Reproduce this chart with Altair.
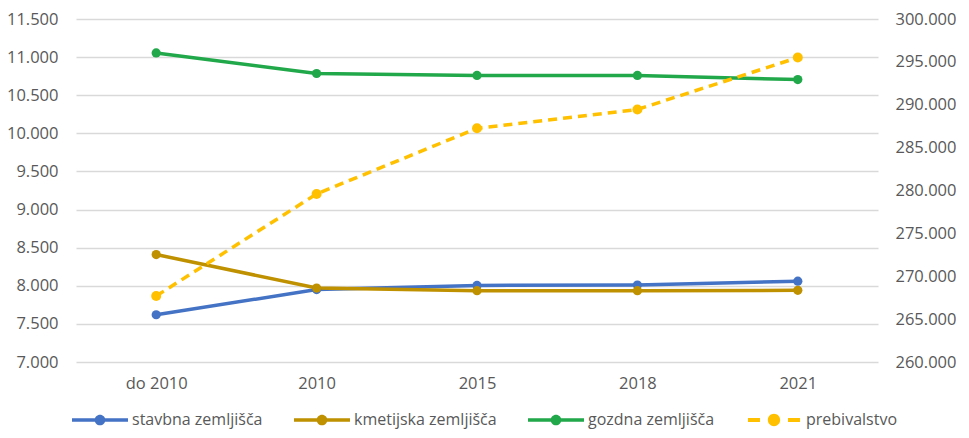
import altair as alt
import pandas as pd

categories = ["do 2010", "2010", "2015", "2018", "2021"]
stavbna = [7620, 7950, 8005, 8010, 8060]
kmetijska = [8410, 7970, 7935, 7935, 7940]
gozdna = [11055, 10785, 10760, 10760, 10705]
prebivalstvo = [267700, 279600, 287250, 289450, 295500]

series_names = ["stavbna zemljišča", "kmetijska zemljišča", "gozdna zemljišča", "prebivalstvo"]
series_colors = ["#4472C4", "#BF9000", "#21A84A", "#FFC000"]

left_axis_ticks = [7000, 7500, 8000, 8500, 9000, 9500, 10000, 10500, 11000, 11500]
right_axis_ticks = [260000, 265000, 270000, 275000, 280000, 285000, 290000, 295000, 300000]

rows = []
for name, vals in zip(series_names[:3], [stavbna, kmetijska, gozdna]):
    for c, v in zip(categories, vals):
        rows.append({"kat": c, "serija": name, "vrednost": v})
left_df = pd.DataFrame(rows)
right_df = pd.DataFrame({"kat": categories, "serija": series_names[3], "vrednost": prebivalstvo})
legend_df = pd.DataFrame({"serija": series_names})

FONT = "Open Sans"
GREY = "#595959"
label_expr = "replace(format(datum.value, ',.0f'), ',', '.')"

circle = "M-0.19,0A0.19,0.19,0,1,1,0.19,0A0.19,0.19,0,1,1,-0.19,0Z"
line_path = "M-1,-0.065L1,-0.065L1,0.065L-1,0.065Z " + circle
dash_path = ("M-0.93,-0.07L-0.5,-0.07L-0.5,0.07L-0.93,0.07Z "
             "M0.5,-0.07L0.93,-0.07L0.93,0.07L0.5,0.07Z "
             "M-0.22,0A0.22,0.22,0,1,1,0.22,0A0.22,0.22,0,1,1,-0.22,0Z")

col_scale = alt.Scale(domain=series_names, range=series_colors)
x_enc = alt.X("kat:N", sort=categories, scale=alt.Scale(type="point", padding=0.5),
              axis=alt.Axis(title=None, domain=False, ticks=False, grid=False, labelAngle=0,
                            labelFont=FONT, labelFontSize=16.5, labelColor=GREY, labelPadding=13))

y_left = alt.Y("vrednost:Q", scale=alt.Scale(domain=[7000, 11500], nice=False, zero=False),
               axis=alt.Axis(title=None, values=left_axis_ticks, labelExpr=label_expr, domain=False,
                             ticks=False, grid=True, gridColor="#D9D9D9", gridWidth=1.5,
                             labelFont=FONT, labelFontSize=16.5, labelColor=GREY, labelPadding=18))
y_right = alt.Y("vrednost:Q", scale=alt.Scale(domain=[260000, 300000], nice=False, zero=False),
                axis=alt.Axis(title=None, orient="right", values=right_axis_ticks, labelExpr=label_expr,
                              domain=False, ticks=False, grid=False,
                              labelFont=FONT, labelFontSize=16.5, labelColor=GREY, labelPadding=17))

legend = alt.Legend(title=None, orient="none", legendX=-4, legendY=373, direction="horizontal",
                    symbolSize=3136, columnPadding=31, labelOffset=4,
                    labelFont=FONT, labelFontSize=16, labelColor=GREY, symbolStrokeWidth=0,
                    symbolOpacity=1)

left_lines = alt.Chart(left_df).mark_line(strokeWidth=3.5).encode(
    x=x_enc, y=y_left,
    stroke=alt.Stroke("serija:N", scale=col_scale, legend=None),
    detail="serija:N",
)
left_points = alt.Chart(left_df).mark_point(filled=True, size=85, opacity=1, strokeWidth=0).encode(
    x=x_enc, y=y_left,
    fill=alt.Fill("serija:N", scale=col_scale, legend=None),
)
legend_layer = alt.Chart(legend_df).mark_point(filled=True, size=0, opacity=1).encode(
    color=alt.Color("serija:N", scale=col_scale, legend=legend),
    shape=alt.Shape("serija:N", scale=alt.Scale(domain=series_names,
                                                 range=[line_path, line_path, line_path, dash_path]),
                    legend=legend),
)

right_line = alt.Chart(right_df).mark_line(strokeWidth=3.5, strokeDash=[9, 6]).encode(
    x=x_enc, y=y_right,
    stroke=alt.Stroke("serija:N", scale=col_scale, legend=None),
)
right_points = alt.Chart(right_df).mark_point(filled=True, size=100, opacity=1, strokeWidth=0).encode(
    x=x_enc, y=y_right,
    fill=alt.Fill("serija:N", scale=col_scale, legend=None),
)

chart = alt.layer(
    legend_layer,
    alt.layer(left_lines, left_points),
    alt.layer(right_line, right_points),
).resolve_scale(y="independent").properties(
    width=802, height=343,
    autosize=alt.AutoSizeParams(type="none"),
    padding={"left": 68, "top": 11, "right": 83, "bottom": 68},
).configure_view(strokeWidth=0)

chart.save("out.html", embed_options={"renderer": "svg", "actions": False})
